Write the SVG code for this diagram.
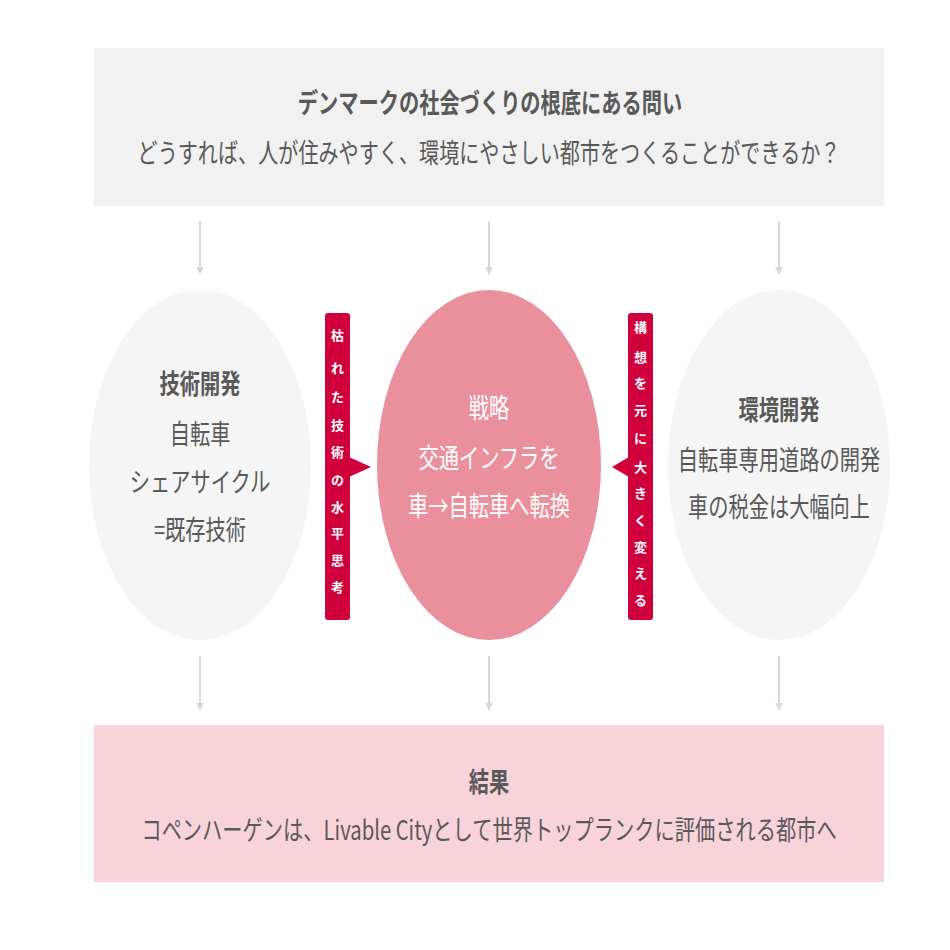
<svg xmlns="http://www.w3.org/2000/svg" width="950" height="950" viewBox="0 0 950 950">
<style>
text{font-family:"Noto Sans CJK JP","Noto Sans",sans-serif;text-anchor:middle}
.t{fill:#595959;font-size:27px}
.b{font-weight:bold}
.w{fill:#ffffff;font-size:27px}
.v{fill:#ffffff;font-size:13px;font-weight:bold}
.c{stroke:#d9d9d9;stroke-width:2;fill:none}
</style>
<defs>
<marker id="ah" viewBox="0 0 10 10" refX="9" refY="5" markerWidth="4" markerHeight="4" orient="auto">
<path d="M0,0 L10,5 L0,10 z" fill="#d9d9d9"/>
</marker>
</defs>
<rect width="950" height="950" fill="#ffffff"/>
<g id="question">
<rect x="94" y="48" width="790" height="158" fill="#f1f1f1"/>
<text class="t b" transform="translate(490,113) scale(0.75,1)">デンマークの社会づくりの根底にある問い</text>
<text class="t" transform="translate(489,163) scale(0.745,1)">どうすれば、人が住みやすく、環境にやさしい都市をつくることができるか？</text>
</g>
<g id="connectors">
<line class="c" x1="200" y1="221" x2="200" y2="274" marker-end="url(#ah)"/>
<line class="c" x1="489" y1="221" x2="489" y2="274" marker-end="url(#ah)"/>
<line class="c" x1="779" y1="221" x2="779" y2="274" marker-end="url(#ah)"/>
<line class="c" x1="200" y1="656" x2="200" y2="710" marker-end="url(#ah)"/>
<line class="c" x1="489" y1="656" x2="489" y2="710" marker-end="url(#ah)"/>
<line class="c" x1="779" y1="656" x2="779" y2="710" marker-end="url(#ah)"/>
</g>
<g id="tech">
<ellipse cx="200" cy="465" rx="111" ry="175" fill="#f5f5f5"/>
<text class="t b" transform="translate(200,394) scale(0.75,1)">技術開発</text>
<text class="t" transform="translate(200,444) scale(0.75,1)">自転車</text>
<text class="t" transform="translate(200,492) scale(0.75,1)">シェアサイクル</text>
<text class="t" transform="translate(200,540) scale(0.75,1)">=既存技術</text>
</g>
<g id="strategy">
<ellipse cx="489" cy="465" rx="112" ry="175" fill="#ea909d"/>
<text class="w" transform="translate(489,418) scale(0.75,1)">戦略</text>
<text class="w" transform="translate(489,468) scale(0.75,1)">交通インフラを</text>
<text class="w" transform="translate(489,516) scale(0.75,1)">車→自転車へ転換</text>
</g>
<g id="env">
<ellipse cx="779" cy="465" rx="111" ry="175" fill="#f5f5f5"/>
<text class="t b" transform="translate(779,420) scale(0.75,1)">環境開発</text>
<text class="t" transform="translate(779,470) scale(0.75,1)">自転車専用道路の開発</text>
<text class="t" transform="translate(779,517) scale(0.75,1)">車の税金は大幅向上</text>
</g>
<g id="tag-left">
<rect x="325" y="313" width="25" height="307" rx="3" fill="#d0003c"/>
<path d="M349,457 L371,467 L349,477 z" fill="#d0003c"/>
<text class="v" x="337.5" y="340">枯</text>
<text class="v" x="337.5" y="373">れ</text>
<text class="v" x="337.5" y="402">た</text>
<text class="v" x="337.5" y="430">技</text>
<text class="v" x="337.5" y="457">術</text>
<text class="v" x="337.5" y="485">の</text>
<text class="v" x="337.5" y="512">水</text>
<text class="v" x="337.5" y="538">平</text>
<text class="v" x="337.5" y="565">思</text>
<text class="v" x="337.5" y="592">考</text>
</g>
<g id="tag-right">
<rect x="628" y="313" width="25" height="307" rx="3" fill="#d0003c"/>
<path d="M629,457 L612,467 L629,477 z" fill="#d0003c"/>
<text class="v" x="640.5" y="332">構</text>
<text class="v" x="640.5" y="362">想</text>
<text class="v" x="640.5" y="388">を</text>
<text class="v" x="640.5" y="415">元</text>
<text class="v" x="640.5" y="443">に</text>
<text class="v" x="640.5" y="472">大</text>
<text class="v" x="640.5" y="498">き</text>
<text class="v" x="640.5" y="525">く</text>
<text class="v" x="640.5" y="552">変</text>
<text class="v" x="640.5" y="578">え</text>
<text class="v" x="640.5" y="605">る</text>
</g>
<g id="result">
<rect x="94" y="725" width="790" height="157" fill="#f9d3da"/>
<text class="t b" transform="translate(489,792) scale(0.75,1)">結果</text>
<text class="t" transform="translate(489,840) scale(0.75,1)">コペンハーゲンは、Livable Cityとして世界トップランクに評価される都市へ</text>
</g>
</svg>
